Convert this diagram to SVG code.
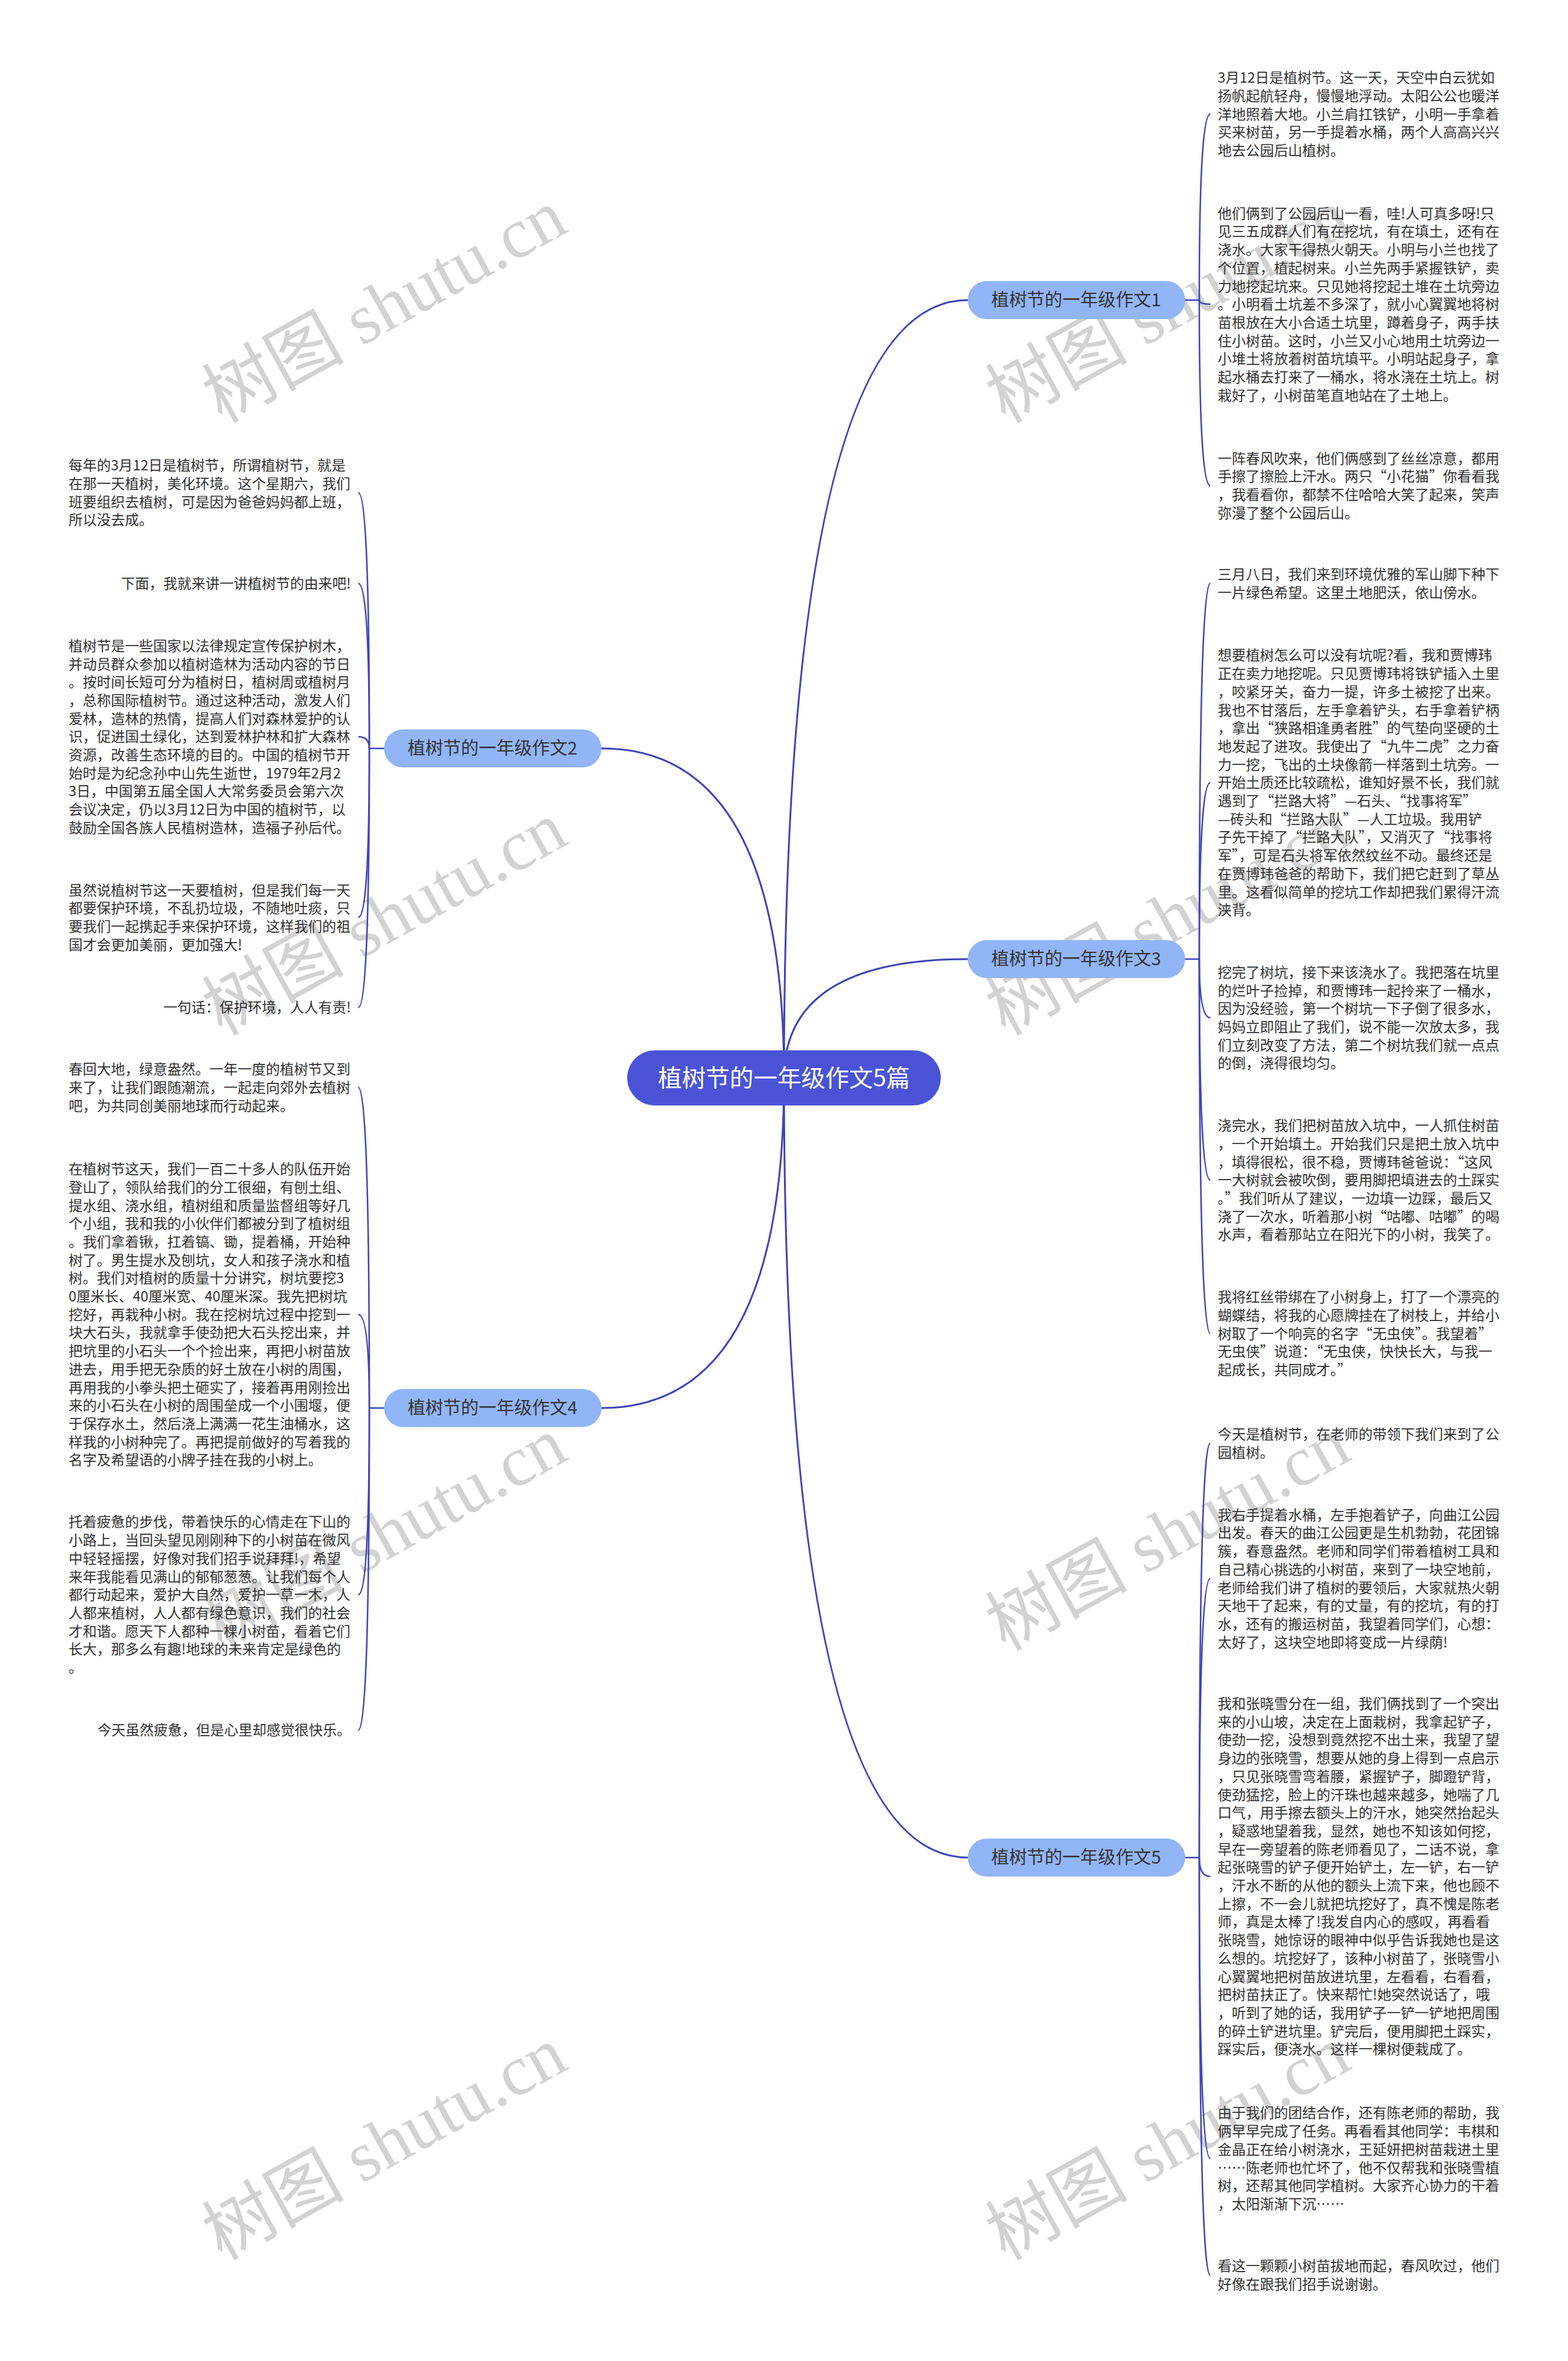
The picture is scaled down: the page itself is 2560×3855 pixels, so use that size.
<svg xmlns="http://www.w3.org/2000/svg" width="2560" height="3855" viewBox="0 0 2560 3855">
<style>
.wm{font-family:"Liberation Serif","Noto Sans CJK SC",serif;font-size:116px;fill:#d2d2d2}
.leaf{font-family:"Noto Sans CJK SC",sans-serif;font-size:23px;fill:#333}
.ra{text-anchor:end}
.br rect{fill:#91b5f7}
.br text{font-family:"Noto Sans CJK SC",sans-serif;font-size:29px;fill:#333;text-anchor:middle}
.root rect{fill:#4a53d6}
.root text{font-family:"Noto Sans CJK SC",sans-serif;font-size:39px;fill:#fff;text-anchor:middle}
.c1{fill:none;stroke:#3c46b8;stroke-width:3}
.c2{fill:none;stroke:#3c46b8;stroke-width:2.5}
</style>
<rect width="2560" height="3855" fill="#fff"/>
<g id="watermarks">
<text class="wm" x="362" y="692" transform="rotate(-29 362 692)">树图 shutu.cn</text>
<text class="wm" x="362" y="1692" transform="rotate(-29 362 1692)">树图 shutu.cn</text>
<text class="wm" x="362" y="2697" transform="rotate(-29 362 2697)">树图 shutu.cn</text>
<text class="wm" x="362" y="3692" transform="rotate(-29 362 3692)">树图 shutu.cn</text>
<text class="wm" x="1641" y="692" transform="rotate(-29 1641 692)">树图 shutu.cn</text>
<text class="wm" x="1641" y="1692" transform="rotate(-29 1641 1692)">树图 shutu.cn</text>
<text class="wm" x="1641" y="2697" transform="rotate(-29 1641 2697)">树图 shutu.cn</text>
<text class="wm" x="1641" y="3692" transform="rotate(-29 1641 3692)">树图 shutu.cn</text>
</g>
<g id="connectors">
<path class="c1" d="M1280 1760 Q1280 490 1580 490"/>
<path class="c1" d="M1280 1760 Q1280 1566 1580 1566"/>
<path class="c1" d="M1280 1760 Q1280 3033 1580 3033"/>
<path class="c1" d="M1280 1760 Q1280 1222 982 1222"/>
<path class="c1" d="M1280 1760 Q1280 2299 982 2299"/>
<path class="c2" d="M1935 490 H1958"/>
<path class="c2" d="M1958 490 Q1958 186.2 1976 186.2"/>
<path class="c2" d="M1958 490 Q1958 496.7 1976 496.7"/>
<path class="c2" d="M1958 490 Q1958 792.9 1976 792.9"/>
<path class="c2" d="M1935 1566 H1958"/>
<path class="c2" d="M1958 1566 Q1958 952.4 1976 952.4"/>
<path class="c2" d="M1958 1566 Q1958 1277.9 1976 1277.9"/>
<path class="c2" d="M1958 1566 Q1958 1661.8 1976 1661.8"/>
<path class="c2" d="M1958 1566 Q1958 1926.9 1976 1926.9"/>
<path class="c2" d="M1958 1566 Q1958 2177.3 1976 2177.3"/>
<path class="c2" d="M1935 3033 H1958"/>
<path class="c2" d="M1958 3033 Q1958 2356.5 1976 2356.5"/>
<path class="c2" d="M1958 3033 Q1958 2577.2 1976 2577.2"/>
<path class="c2" d="M1958 3033 Q1958 3063.8 1976 3063.8"/>
<path class="c2" d="M1958 3033 Q1958 3524.3 1976 3524.3"/>
<path class="c2" d="M1958 3033 Q1958 3714.9 1976 3714.9"/>
<path class="c2" d="M627 1222 H603"/>
<path class="c2" d="M603 1222 Q603 804.4 585 804.4"/>
<path class="c2" d="M603 1222 Q603 952.7 585 952.7"/>
<path class="c2" d="M603 1222 Q603 1202.9 585 1202.9"/>
<path class="c2" d="M603 1222 Q603 1497.9 585 1497.9"/>
<path class="c2" d="M603 1222 Q603 1645 585 1645"/>
<path class="c2" d="M627 2299 H603"/>
<path class="c2" d="M603 2299 Q603 1775.4 585 1775.4"/>
<path class="c2" d="M603 2299 Q603 2146.3 585 2146.3"/>
<path class="c2" d="M603 2299 Q603 2603.8 585 2603.8"/>
<path class="c2" d="M603 2299 Q603 2825 585 2825"/>
</g>
<g id="root" class="root"><rect x="1024" y="1715" width="512" height="90" rx="45"/><text x="1280" y="1774">植树节的一年级作文5篇</text></g>
<g id="b1" class="br"><rect x="1580" y="459" width="355" height="62" rx="31"/><text x="1757" y="500">植树节的一年级作文1</text></g>
<g id="b3" class="br"><rect x="1580" y="1535" width="355" height="62" rx="31"/><text x="1757" y="1576">植树节的一年级作文3</text></g>
<g id="b5" class="br"><rect x="1580" y="3002" width="355" height="62" rx="31"/><text x="1757" y="3043">植树节的一年级作文5</text></g>
<g id="b2" class="br"><rect x="627" y="1191" width="355" height="62" rx="31"/><text x="804" y="1232">植树节的一年级作文2</text></g>
<g id="b4" class="br"><rect x="627" y="2268" width="355" height="62" rx="31"/><text x="804" y="2309">植树节的一年级作文4</text></g>
<g id="r1a"><text class="leaf" x="1988" y="135.1"><tspan x="1988">3月12日是植树节。这一天，天空中白云犹如</tspan><tspan x="1988" dy="29.7">扬帆起航轻舟，慢慢地浮动。太阳公公也暖洋</tspan><tspan x="1988" dy="29.7">洋地照着大地。小兰肩扛铁铲，小明一手拿着</tspan><tspan x="1988" dy="29.7">买来树苗，另一手提着水桶，两个人高高兴兴</tspan><tspan x="1988" dy="29.7">地去公园后山植树。</tspan></text></g>
<g id="r1b"><text class="leaf" x="1988" y="356.7"><tspan x="1988">他们俩到了公园后山一看，哇!人可真多呀!只</tspan><tspan x="1988" dy="29.7">见三五成群人们有在挖坑，有在填土，还有在</tspan><tspan x="1988" dy="29.7">浇水。大家干得热火朝天。小明与小兰也找了</tspan><tspan x="1988" dy="29.7">个位置，植起树来。小兰先两手紧握铁铲，卖</tspan><tspan x="1988" dy="29.7">力地挖起坑来。只见她将挖起土堆在土坑旁边</tspan><tspan x="1988" dy="29.7">。小明看土坑差不多深了，就小心翼翼地将树</tspan><tspan x="1988" dy="29.7">苗根放在大小合适土坑里，蹲着身子，两手扶</tspan><tspan x="1988" dy="29.7">住小树苗。这时，小兰又小心地用土坑旁边一</tspan><tspan x="1988" dy="29.7">小堆土将放着树苗坑填平。小明站起身子，拿</tspan><tspan x="1988" dy="29.7">起水桶去打来了一桶水，将水浇在土坑上。树</tspan><tspan x="1988" dy="29.7">栽好了，小树苗笔直地站在了土地上。</tspan></text></g>
<g id="r1c"><text class="leaf" x="1988" y="756.7"><tspan x="1988">一阵春风吹来，他们俩感到了丝丝凉意，都用</tspan><tspan x="1988" dy="29.7">手擦了擦脸上汗水。两只“小花猫”你看看我</tspan><tspan x="1988" dy="29.7">，我看看你，都禁不住哈哈大笑了起来，笑声</tspan><tspan x="1988" dy="29.7">弥漫了整个公园后山。</tspan></text></g>
<g id="r3a"><text class="leaf" x="1988" y="946"><tspan x="1988">三月八日，我们来到环境优雅的军山脚下种下</tspan><tspan x="1988" dy="29.7">一片绿色希望。这里土地肥沃，依山傍水。</tspan></text></g>
<g id="r3b"><text class="leaf" x="1988" y="1078.4"><tspan x="1988">想要植树怎么可以没有坑呢?看，我和贾博玮</tspan><tspan x="1988" dy="29.7">正在卖力地挖呢。只见贾博玮将铁铲插入土里</tspan><tspan x="1988" dy="29.7">，咬紧牙关，奋力一提，许多土被挖了出来。</tspan><tspan x="1988" dy="29.7">我也不甘落后，左手拿着铲头，右手拿着铲柄</tspan><tspan x="1988" dy="29.7">，拿出“狭路相逢勇者胜”的气垫向坚硬的土</tspan><tspan x="1988" dy="29.7">地发起了进攻。我使出了“九牛二虎”之力奋</tspan><tspan x="1988" dy="29.7">力一挖，飞出的土块像箭一样落到土坑旁。一</tspan><tspan x="1988" dy="29.7">开始土质还比较疏松，谁知好景不长，我们就</tspan><tspan x="1988" dy="29.7">遇到了“拦路大将”—石头、“找事将军”</tspan><tspan x="1988" dy="29.7">—砖头和“拦路大队”—人工垃圾。我用铲</tspan><tspan x="1988" dy="29.7">子先干掉了“拦路大队”，又消灭了“找事将</tspan><tspan x="1988" dy="29.7">军”，可是石头将军依然纹丝不动。最终还是</tspan><tspan x="1988" dy="29.7">在贾博玮爸爸的帮助下，我们把它赶到了草丛</tspan><tspan x="1988" dy="29.7">里。这看似简单的挖坑工作却把我们累得汗流</tspan><tspan x="1988" dy="29.7">浃背。</tspan></text></g>
<g id="r3c"><text class="leaf" x="1988" y="1595.9"><tspan x="1988">挖完了树坑，接下来该浇水了。我把落在坑里</tspan><tspan x="1988" dy="29.7">的烂叶子捡掉，和贾博玮一起拎来了一桶水，</tspan><tspan x="1988" dy="29.7">因为没经验，第一个树坑一下子倒了很多水，</tspan><tspan x="1988" dy="29.7">妈妈立即阻止了我们，说不能一次放太多，我</tspan><tspan x="1988" dy="29.7">们立刻改变了方法，第二个树坑我们就一点点</tspan><tspan x="1988" dy="29.7">的倒，浇得很均匀。</tspan></text></g>
<g id="r3d"><text class="leaf" x="1988" y="1846.2"><tspan x="1988">浇完水，我们把树苗放入坑中，一人抓住树苗</tspan><tspan x="1988" dy="29.7">，一个开始填土。开始我们只是把土放入坑中</tspan><tspan x="1988" dy="29.7">，填得很松，很不稳，贾博玮爸爸说：“这风</tspan><tspan x="1988" dy="29.7">一大树就会被吹倒，要用脚把填进去的土踩实</tspan><tspan x="1988" dy="29.7">。”我们听从了建议，一边填一边踩，最后又</tspan><tspan x="1988" dy="29.7">浇了一次水，听着那小树“咕嘟、咕嘟”的喝</tspan><tspan x="1988" dy="29.7">水声，看着那站立在阳光下的小树，我笑了。</tspan></text></g>
<g id="r3e"><text class="leaf" x="1988" y="2126.3"><tspan x="1988">我将红丝带绑在了小树身上，打了一个漂亮的</tspan><tspan x="1988" dy="29.7">蝴蝶结，将我的心愿牌挂在了树枝上，并给小</tspan><tspan x="1988" dy="29.7">树取了一个响亮的名字“无虫侠”。我望着”</tspan><tspan x="1988" dy="29.7">无虫侠”说道：“无虫侠，快快长大，与我一</tspan><tspan x="1988" dy="29.7">起成长，共同成才。”</tspan></text></g>
<g id="r5a"><text class="leaf" x="1988" y="2350.1"><tspan x="1988">今天是植树节，在老师的带领下我们来到了公</tspan><tspan x="1988" dy="29.7">园植树。</tspan></text></g>
<g id="r5b"><text class="leaf" x="1988" y="2481.7"><tspan x="1988">我右手提着水桶，左手抱着铲子，向曲江公园</tspan><tspan x="1988" dy="29.7">出发。春天的曲江公园更是生机勃勃，花团锦</tspan><tspan x="1988" dy="29.7">簇，春意盎然。老师和同学们带着植树工具和</tspan><tspan x="1988" dy="29.7">自己精心挑选的小树苗，来到了一块空地前，</tspan><tspan x="1988" dy="29.7">老师给我们讲了植树的要领后，大家就热火朝</tspan><tspan x="1988" dy="29.7">天地干了起来，有的丈量，有的挖坑，有的打</tspan><tspan x="1988" dy="29.7">水，还有的搬运树苗，我望着同学们，心想：</tspan><tspan x="1988" dy="29.7">太好了，这块空地即将变成一片绿荫!</tspan></text></g>
<g id="r5c"><text class="leaf" x="1988" y="2790"><tspan x="1988">我和张晓雪分在一组，我们俩找到了一个突出</tspan><tspan x="1988" dy="29.7">来的小山坡，决定在上面栽树，我拿起铲子，</tspan><tspan x="1988" dy="29.7">使劲一挖，没想到竟然挖不出土来，我望了望</tspan><tspan x="1988" dy="29.7">身边的张晓雪，想要从她的身上得到一点启示</tspan><tspan x="1988" dy="29.7">，只见张晓雪弯着腰，紧握铲子，脚蹬铲背，</tspan><tspan x="1988" dy="29.7">使劲猛挖，脸上的汗珠也越来越多，她喘了几</tspan><tspan x="1988" dy="29.7">口气，用手擦去额头上的汗水，她突然抬起头</tspan><tspan x="1988" dy="29.7">，疑惑地望着我，显然，她也不知该如何挖，</tspan><tspan x="1988" dy="29.7">早在一旁望着的陈老师看见了，二话不说，拿</tspan><tspan x="1988" dy="29.7">起张晓雪的铲子便开始铲土，左一铲，右一铲</tspan><tspan x="1988" dy="29.7">，汗水不断的从他的额头上流下来，他也顾不</tspan><tspan x="1988" dy="29.7">上擦，不一会儿就把坑挖好了，真不愧是陈老</tspan><tspan x="1988" dy="29.7">师，真是太棒了!我发自内心的感叹，再看看</tspan><tspan x="1988" dy="29.7">张晓雪，她惊讶的眼神中似乎告诉我她也是这</tspan><tspan x="1988" dy="29.7">么想的。坑挖好了，该种小树苗了，张晓雪小</tspan><tspan x="1988" dy="29.7">心翼翼地把树苗放进坑里，左看看，右看看，</tspan><tspan x="1988" dy="29.7">把树苗扶正了。快来帮忙!她突然说话了，哦</tspan><tspan x="1988" dy="29.7">，听到了她的话，我用铲子一铲一铲地把周围</tspan><tspan x="1988" dy="29.7">的碎土铲进坑里。铲完后，便用脚把土踩实，</tspan><tspan x="1988" dy="29.7">踩实后，便浇水。这样一棵树便栽成了。</tspan></text></g>
<g id="r5d"><text class="leaf" x="1988" y="3458.4"><tspan x="1988">由于我们的团结合作，还有陈老师的帮助，我</tspan><tspan x="1988" dy="29.7">俩早早完成了任务。再看看其他同学：韦棋和</tspan><tspan x="1988" dy="29.7">金晶正在给小树浇水，王延妍把树苗栽进土里</tspan><tspan x="1988" dy="29.7">……陈老师也忙坏了，他不仅帮我和张晓雪植</tspan><tspan x="1988" dy="29.7">树，还帮其他同学植树。大家齐心协力的干着</tspan><tspan x="1988" dy="29.7">，太阳渐渐下沉……</tspan></text></g>
<g id="r5e"><text class="leaf" x="1988" y="3708.4"><tspan x="1988">看这一颗颗小树苗拔地而起，春风吹过，他们</tspan><tspan x="1988" dy="29.7">好像在跟我们招手说谢谢。</tspan></text></g>
<g id="l2a"><text class="leaf" x="112" y="768.2"><tspan x="112">每年的3月12日是植树节，所谓植树节，就是</tspan><tspan x="112" dy="29.7">在那一天植树，美化环境。这个星期六，我们</tspan><tspan x="112" dy="29.7">班要组织去植树，可是因为爸爸妈妈都上班，</tspan><tspan x="112" dy="29.7">所以没去成。</tspan></text></g>
<g id="l2b"><text class="leaf ra" x="573" y="961.1">下面，我就来讲一讲植树节的由来吧!</text></g>
<g id="l2c"><text class="leaf" x="112" y="1062.8"><tspan x="112">植树节是一些国家以法律规定宣传保护树木，</tspan><tspan x="112" dy="29.7">并动员群众参加以植树造林为活动内容的节日</tspan><tspan x="112" dy="29.7">。按时间长短可分为植树日，植树周或植树月</tspan><tspan x="112" dy="29.7">，总称国际植树节。通过这种活动，激发人们</tspan><tspan x="112" dy="29.7">爱林，造林的热情，提高人们对森林爱护的认</tspan><tspan x="112" dy="29.7">识，促进国土绿化，达到爱林护林和扩大森林</tspan><tspan x="112" dy="29.7">资源，改善生态环境的目的。中国的植树节开</tspan><tspan x="112" dy="29.7">始时是为纪念孙中山先生逝世，1979年2月2</tspan><tspan x="112" dy="29.7">3日，中国第五届全国人大常务委员会第六次</tspan><tspan x="112" dy="29.7">会议决定，仍以3月12日为中国的植树节，以</tspan><tspan x="112" dy="29.7">鼓励全国各族人民植树造林，造福子孙后代。</tspan></text></g>
<g id="l2d"><text class="leaf" x="112" y="1461.7"><tspan x="112">虽然说植树节这一天要植树，但是我们每一天</tspan><tspan x="112" dy="29.7">都要保护环境，不乱扔垃圾，不随地吐痰，只</tspan><tspan x="112" dy="29.7">要我们一起携起手来保护环境，这样我们的祖</tspan><tspan x="112" dy="29.7">国才会更加美丽，更加强大!</tspan></text></g>
<g id="l2e"><text class="leaf ra" x="573" y="1653.4">一句话：保护环境，人人有责!</text></g>
<g id="l4a"><text class="leaf" x="112" y="1754.1"><tspan x="112">春回大地，绿意盎然。一年一度的植树节又到</tspan><tspan x="112" dy="29.7">来了，让我们跟随潮流，一起走向郊外去植树</tspan><tspan x="112" dy="29.7">吧，为共同创美丽地球而行动起来。</tspan></text></g>
<g id="l4b"><text class="leaf" x="112" y="1917.1"><tspan x="112">在植树节这天，我们一百二十多人的队伍开始</tspan><tspan x="112" dy="29.7">登山了，领队给我们的分工很细，有刨土组、</tspan><tspan x="112" dy="29.7">提水组、浇水组，植树组和质量监督组等好几</tspan><tspan x="112" dy="29.7">个小组，我和我的小伙伴们都被分到了植树组</tspan><tspan x="112" dy="29.7">。我们拿着锹，扛着镐、锄，提着桶，开始种</tspan><tspan x="112" dy="29.7">树了。男生提水及刨坑，女人和孩子浇水和植</tspan><tspan x="112" dy="29.7">树。我们对植树的质量十分讲究，树坑要挖3</tspan><tspan x="112" dy="29.7">0厘米长、40厘米宽、40厘米深。我先把树坑</tspan><tspan x="112" dy="29.7">挖好，再栽种小树。我在挖树坑过程中挖到一</tspan><tspan x="112" dy="29.7">块大石头，我就拿手使劲把大石头挖出来，并</tspan><tspan x="112" dy="29.7">把坑里的小石头一个个捡出来，再把小树苗放</tspan><tspan x="112" dy="29.7">进去，用手把无杂质的好土放在小树的周围，</tspan><tspan x="112" dy="29.7">再用我的小拳头把土砸实了，接着再用刚捡出</tspan><tspan x="112" dy="29.7">来的小石头在小树的周围垒成一个小围堰，便</tspan><tspan x="112" dy="29.7">于保存水土，然后浇上满满一花生油桶水，这</tspan><tspan x="112" dy="29.7">样我的小树种完了。再把提前做好的写着我的</tspan><tspan x="112" dy="29.7">名字及希望语的小牌子挂在我的小树上。</tspan></text></g>
<g id="l4c"><text class="leaf" x="112" y="2493.4"><tspan x="112">托着疲惫的步伐，带着快乐的心情走在下山的</tspan><tspan x="112" dy="29.7">小路上，当回头望见刚刚种下的小树苗在微风</tspan><tspan x="112" dy="29.7">中轻轻摇摆，好像对我们招手说拜拜!，希望</tspan><tspan x="112" dy="29.7">来年我能看见满山的郁郁葱葱。让我们每个人</tspan><tspan x="112" dy="29.7">都行动起来，爱护大自然，爱护一草一木，人</tspan><tspan x="112" dy="29.7">人都来植树，人人都有绿色意识，我们的社会</tspan><tspan x="112" dy="29.7">才和谐。愿天下人都种一棵小树苗，看着它们</tspan><tspan x="112" dy="29.7">长大，那多么有趣!地球的未来肯定是绿色的</tspan><tspan x="112" dy="29.7">。</tspan></text></g>
<g id="l4d"><text class="leaf ra" x="573" y="2833.4">今天虽然疲惫，但是心里却感觉很快乐。</text></g>
</svg>
